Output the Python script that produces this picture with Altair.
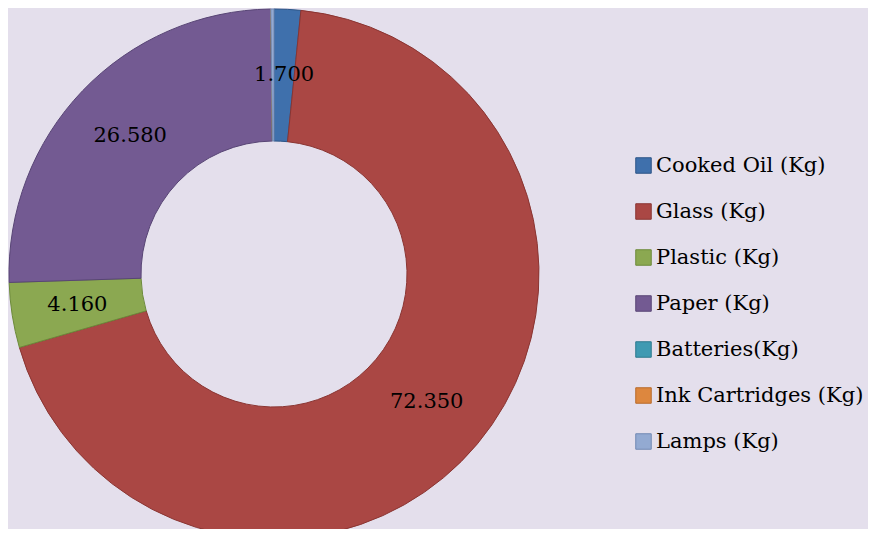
import altair as alt
import pandas as pd

categories = ["Cooked Oil (Kg)", "Glass (Kg)", "Plastic (Kg)", "Paper (Kg)",
              "Batteries(Kg)", "Ink Cartridges (Kg)", "Lamps (Kg)"]
values = [1.700, 72.350, 4.160, 26.580, 0.0, 0.0, 0.2]
labels = ["1.700", "72.350", "4.160", "26.580", "", "", ""]
fills = ["#3F70AC", "#AA4744", "#8BA851", "#735A92", "#3F9AB2", "#DD873E", "#93AAD2"]
strokes = ["#2D5587", "#8A3532", "#6C8A3A", "#584575", "#2D7A8E", "#B86A2A", "#7189B3"]

df = pd.DataFrame({"cat": categories, "value": values, "label": labels,
                   "order": list(range(len(categories)))})

base = alt.Chart(df).encode(
    theta=alt.Theta("value:Q", stack=True),
    order=alt.Order("order:Q"),
)

arcs = base.mark_arc(outerRadius=265, innerRadius=133, strokeWidth=1).encode(
    x=alt.value(266), y=alt.value(266),
    fill=alt.Fill("cat:N", scale=alt.Scale(domain=categories, range=fills),
                  legend=alt.Legend(title=None, orient="none", legendX=625, legendY=147,
                                    labelFont="DejaVu Serif", labelFontSize=21,
                                    labelColor="#000000", symbolType="square",
                                    symbolSize=240, symbolStrokeWidth=1,
                                    rowPadding=24, labelOffset=2, padding=0,
                                    labelLimit=400)),
    stroke=alt.Stroke("cat:N", scale=alt.Scale(domain=categories, range=strokes)),
)

text = base.mark_text(radius=199, font="DejaVu Serif", fontSize=21, color="#000000").encode(
    x=alt.value(266), y=alt.value(266),
    text="label:N",
)

chart = (arcs + text).properties(
    width=860, height=521, padding=0, background="#E4DFEC",
    autosize=alt.AutoSizeParams(type="none"),
).configure_view(stroke=None)

chart.save("out.html", embed_options={"renderer": "svg", "actions": False})
